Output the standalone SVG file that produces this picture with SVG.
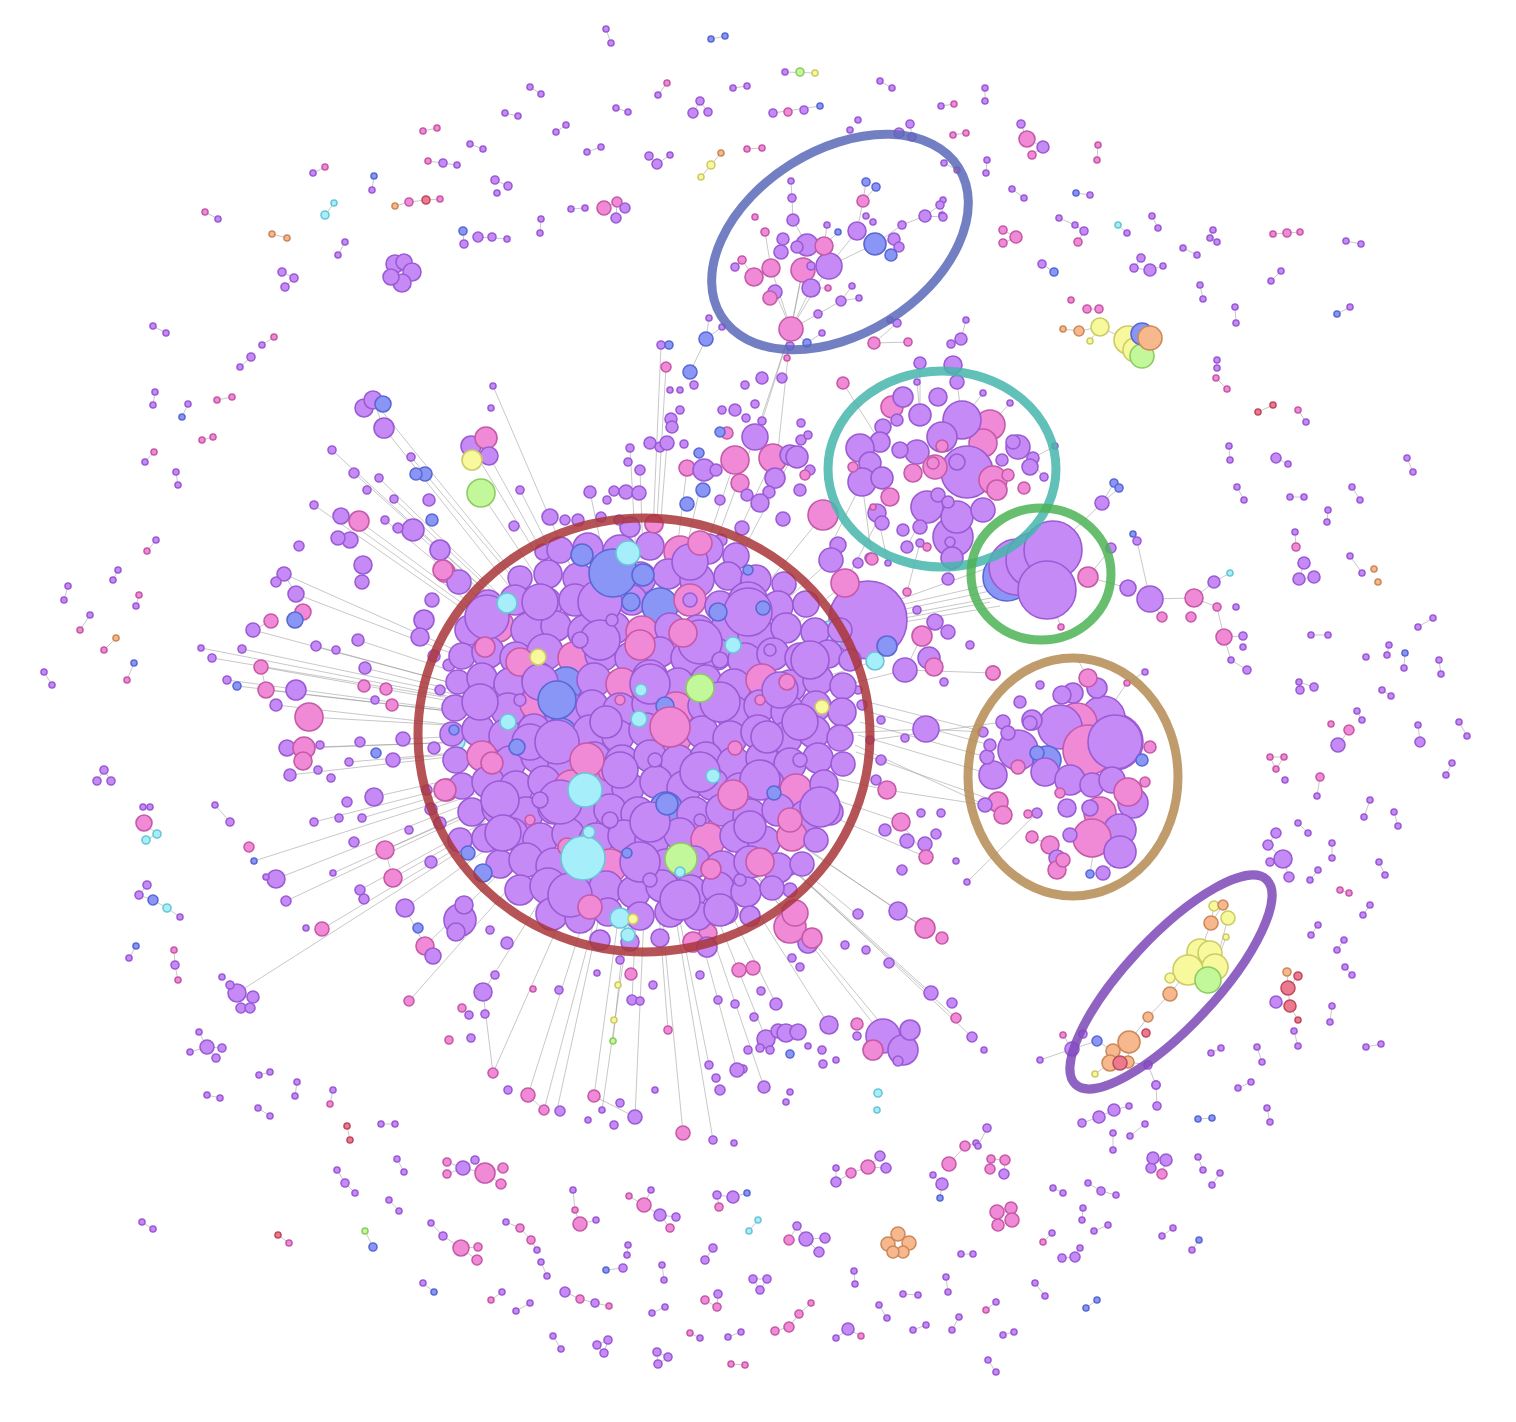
<svg xmlns="http://www.w3.org/2000/svg" width="1516" height="1422" viewBox="0 0 1516 1422">
<style>
circle{stroke-width:1.6}
.p{fill:#c68af6;stroke:#9b5bd4}
.k{fill:#f08ad6;stroke:#c65aa8}
.b{fill:#8a96f6;stroke:#5a68d4}
.c{fill:#a6eefa;stroke:#6ac6d6}
.g{fill:#c2f89a;stroke:#8ccc62}
.y{fill:#f8f89c;stroke:#cccc66}
.o{fill:#f6b88c;stroke:#cc8a5c}
.r{fill:#ec7a8e;stroke:#c04a60}
.e{fill:none;stroke:#8c8c8c;stroke-width:0.6;stroke-opacity:0.8}
.ring{fill:none;stroke-width:9;stroke-opacity:0.85}
</style>
<rect width="1516" height="1422" fill="#ffffff"/>
<g id="connectors">
<path class="e" d="M606 29L611 43M711 39L725 36M785 72L815 73M667 83L658 95M747 86L733 88M530 87L541 94M700 101L693 113M700 101L708 112M773 113L820 106M505 113L518 116M616 108L628 112M556 132L566 125M437 128L423 131M470 144L483 149M601 147L587 152M747 149L762 148M649 156L657 164L670 155M721 153L711 165L701 177M428 161L457 165M495 180L508 186M325 167L313 173M374 176L372 190M334 203L325 215M395 206L409 202L426 200L440 199M604 208L617 202L625 208M617 202L616 218M571 209L585 208M541 219L540 233M463 231L464 244M478 237L507 239M205 212L218 219M272 234L287 238M345 242L338 255M282 272L294 278L285 287M153 326L166 333M262 345L274 337M251 357L240 367M155 392L153 405M188 404L182 417M217 400L232 397M202 440L213 437M145 462L154 452M176 472L178 485M156 540L147 551M118 570L113 580M68 586L64 600M136 606L139 595M90 615L80 630M104 650L116 638M134 663L127 680M44 672L52 685M104 770L97 781M104 770L111 781M143 807L150 807M144 823L157 834L146 840M147 885L139 895L153 900L167 908L180 917M136 946L129 958M174 950L175 965L178 980M215 805L230 822M199 1032L207 1047L216 1058M207 1047L222 1048M190 1052L207 1047M207 1095L220 1098M259 1075L270 1072M258 1108L270 1116M297 1082L295 1096M333 1090L330 1104M347 1126L350 1140M142 1222L153 1229M278 1235L289 1243M337 1170L345 1183L355 1193M365 1231L373 1247M389 1200L399 1211M381 1124L395 1124M397 1159L404 1172M431 1223L443 1236L461 1248L477 1260M461 1248L478 1247M447 1162L463 1168L475 1160M447 1174L463 1168L485 1173L501 1184M485 1173L503 1168M423 1283L434 1292M491 1300L502 1292M506 1222L520 1228L531 1240L537 1250M516 1311L530 1303M541 1262L547 1276M553 1336L561 1349M565 1292L580 1299L595 1303L609 1306M573 1190L575 1210L580 1224L596 1220M597 1345L604 1353L608 1340L597 1345M623 1268L606 1270M629 1196L644 1205L651 1190M644 1205L660 1215L670 1228M660 1215L676 1217M627 1255L628 1245M652 1313L665 1307M657 1352L668 1357L658 1364L657 1352M662 1265L664 1280M690 1333L700 1338M705 1260L713 1248M705 1300L717 1307L718 1294M719 1207L717 1195L733 1197L747 1193M728 1337L741 1332M731 1364L745 1365M749 1231L758 1220M753 1279L767 1279L760 1290L753 1279M775 1331L789 1327L799 1314L811 1303M789 1240L797 1226L806 1239L819 1252M806 1239L825 1238M836 1338L848 1329L861 1336M836 1182L836 1168M836 1182L851 1173L868 1167L880 1156M868 1167L886 1168M854 1271L855 1284M879 1305L887 1318M903 1294L918 1295M913 1330L926 1325M933 1175L942 1184L940 1198M949 1164L965 1146L976 1143M946 1277L948 1292M952 1330L959 1317M961 1254L973 1254M990 1169L991 1159L1005 1160L1004 1174M987 1128L978 1146M988 1360L996 1372M986 1310L996 1302M1003 1335L1014 1332M1035 1283L1045 1296M1043 1242L1052 1233M1053 1188L1063 1193M1062 1258L1075 1257L1080 1248M1082 1220L1083 1208M1082 1123L1099 1117L1114 1110L1129 1106M1088 1183L1101 1191L1116 1195M1086 1308L1097 1300M1094 1231L1108 1225M1113 1133L1113 1150M1130 1136L1145 1124M1151 1168L1153 1158L1166 1160L1162 1174M1156 1085L1157 1106M1162 1236L1173 1228M1198 1119L1212 1118M1198 1157L1203 1170M1192 1250L1199 1240M1212 1185L1220 1173M1211 1053L1221 1048M1238 1088L1251 1082M1257 1047L1262 1062M1267 1108L1270 1122M1294 1031L1298 1046M1366 1047L1381 1044M1330 1022L1332 1006M1287 972L1288 988M1298 976L1288 988L1290 1006L1298 1020M1276 1002L1290 1006M1352 975L1345 967M1337 950L1344 940M1311 935L1318 925M1318 870L1310 880M1340 890L1349 893M1370 905L1363 915M1385 875L1379 862M1364 817L1370 800M1394 812L1398 826M1338 745L1349 730M1270 757L1284 757L1276 769L1270 757M1320 777L1317 796M1332 843L1332 858M1276 833L1268 845L1283 859L1270 862M1283 859L1289 877M1298 823L1308 833M1362 720L1357 711M1391 696L1382 690M1439 660L1441 674M1405 653L1404 668M1418 725L1420 742M1446 775L1452 763M1459 722L1467 736M1418 627L1433 618M1389 645L1387 655M1311 635L1328 635M1300 690L1299 682L1314 687M1314 577L1299 579L1304 563M1296 547L1295 532M1350 556L1362 573M1328 510L1327 522M1352 487L1360 500M1407 458L1413 472M1337 314L1350 307M1346 241L1361 244M1273 234L1300 232M1271 281L1281 271M1298 410L1306 422M1276 458L1288 464M1290 497L1304 497M1258 412L1273 405M1229 446L1230 460M1237 487L1244 500M1216 378L1227 389M1200 285L1203 299M1217 360L1217 368M1213 230L1210 238L1217 242M1235 307L1236 323M1183 248L1197 255M1152 216L1158 228M1141 258L1134 268L1150 270L1163 266M1118 225L1127 233M1076 193L1090 195M1098 145L1097 160M1059 218L1075 225L1084 231L1078 242M1042 264L1054 272M1003 230L1016 237L1003 243M1012 189L1024 198M1021 124L1027 139L1043 147L1032 155M985 88L985 101M941 106L954 104M953 135L966 133M987 160L986 173M943 200L942 215M880 81L892 88M899 133L912 137L910 124M944 163L957 170M1087 309L1099 309M1063 329L1079 331L1100 327L1128 340M1090 341L1100 327"/>
<path class="e" d="M791 329L803 270M791 329L771 268M791 329L811 288M791 329L829 266M791 329L818 314M791 329L775 292M791 329L807 245M803 270L829 266M829 266L875 244M829 266L857 231M807 245L793 220L792 198L791 181M781 252L783 239M771 268L754 277L742 260L735 267M771 268L765 232M857 231L863 201L866 182M863 201L876 187M875 244L894 239L899 247M875 244L891 255M875 244L902 225L925 216L940 205M925 216L943 217M818 314L841 301L852 286M841 301L859 298M824 246L827 225M824 246L838 232M811 288L828 288M791 329L807 343L822 333M791 329L787 358M791 329L775 478M791 329L762 421M791 329L755 437M706 339L709 318M706 339L722 327M706 339L690 372M874 343L897 323M874 343L908 342M951 344L961 339L966 320"/>
<path class="e" d="M843 383L880 442M920 363L920 415M953 365L957 382L962 420M983 393L962 420M1010 403L990 425M1055 446L1033 458M903 397L892 407M907 547L927 507M888 563L877 513M948 579L952 558M907 592L920 543M872 559L862 482M830 547L862 482M845 583L890 497M1044 477L1013 442M917 382L920 415M1102 503L1053 550M1114 483L1102 503M1119 488L1102 503M1111 548L1088 577M1133 534L1137 541L1150 599M1150 599L1162 617M1150 599L1194 598M1194 598L1214 582L1230 573M1194 598L1217 607L1224 637L1243 636M1224 637L1231 660L1247 670M1088 577L1128 588M1061 627L1047 590M1078 660L1088 678"/>
<path class="e" d="M870 612L1000 582M872 616L995 590M874 620L1002 596M872 624L990 602M868 628L1000 606M876 608L1010 560M860 700L985 732M862 710L990 745M860 722L987 757M858 735L993 775M855 745L985 805M856 752L998 802M870 740L1003 722M905 670L993 673M926 729L983 732M887 790L985 805M1120 852L1103 877M1090 873L1100 813M1145 782L1133 803M1150 747L1115 742M1127 683L1103 718M1145 672L1127 683M967 882L1037 813M1032 837L1050 845"/>
<path class="e" d="M1188 970L1170 978M1170 994L1188 970M1170 994L1148 1017L1129 1042L1113 1051L1110 1063M1129 1042L1128 1062M1097 1041L1113 1051M1072 1049L1097 1041M1072 1049L1083 1034M1063 1035L1072 1049M1128 1062L1148 1065L1156 1085M1211 923L1200 952M1228 918L1215 967M1214 906L1211 923M1223 905L1211 923M1226 937L1215 967M1095 1074L1110 1063M1072 1049L1040 1060"/>
<path class="e" d="M531 595L373 400M520 600L384 428M552 580L471 446M543 586L481 493M555 575L489 456M529 597L411 457M498 629L341 516M500 625L359 521M480 661L284 574M482 665L296 594M470 688L253 630M467 704L261 667M464 726L309 717M464 742L304 748M466 712L227 680M466 755L290 775M466 752L349 762M470 775L374 797M480 808L385 850M487 825L393 878M498 841L405 908M514 859L425 946M476 800L276 879M473 791L254 861M493 830L237 993M525 870L409 1001M548 888L483 992M570 899L493 1073M588 906L528 1095M597 910L544 1110M619 913L594 1096M644 915L635 1117M662 915L683 1133M675 913L713 1140M678 911L709 1065M659 914L668 1030M636 915L632 1000M626 914L613 1041M711 902L766 1039M741 886L829 1025M756 875L883 1036M777 855L931 993M792 838L898 911M800 845L925 928M820 775L887 790M815 793L901 822M810 807L926 857M824 734L926 729M818 692L905 670M813 673L887 646M815 680L875 661M790 630L845 583M757 596L823 515M775 610L831 560M729 577L801 440M720 572L773 458M707 566L755 437M700 565L735 460M684 559L704 470M676 558L687 468M658 556L667 443M655 555L666 367M652 555L661 345M643 555L640 470M636 555L630 448M604 559L590 492M563 575L520 490M572 570L493 386M723 897L776 1004M693 908L737 1070M702 906L764 1087M757 874L903 1050M781 852L856 914M756 875L808 943M777 856L956 1018M781 858L972 1037M600 913L557 1110M630 915L602 1110M509 616L413 530M470 688L315 646M473 678L358 640M469 694L365 668M464 736L403 739M465 753L393 760M475 794L431 809M471 786L362 818M486 821L360 890M489 829L322 929M480 810L286 901M480 807L333 873M470 782L314 822M464 742L287 748M464 726L276 705M465 713L266 690M468 697L242 649M467 700L201 648M467 701L212 658M465 713L237 686M505 619L385 520M513 611L394 499M514 609L379 478M511 614L354 473M511 614L332 450M496 632L314 505M373 400L384 428M341 516L359 521M284 574L296 594M253 630L271 621M261 667L266 690M304 748L287 748M385 850L393 878M405 908L425 946M237 993L253 997M483 992L493 1073M528 1095L544 1110M594 1096L635 1117M766 1039L786 1033M883 1036L903 1050M898 911L925 928M901 822L926 857M905 670L922 636M755 437L773 458M704 470L735 460"/>
</g>
<g id="outer-nodes">
<circle class="p" cx="606" cy="29" r="3"/><circle class="p" cx="611" cy="43" r="3"/>
<circle class="b" cx="711" cy="39" r="3"/><circle class="b" cx="725" cy="36" r="3"/>
<circle class="p" cx="785" cy="72" r="3"/><circle class="g" cx="800" cy="72" r="4"/><circle class="y" cx="815" cy="73" r="3"/>
<circle class="k" cx="667" cy="83" r="3"/><circle class="p" cx="658" cy="95" r="3"/>
<circle class="p" cx="747" cy="86" r="3"/><circle class="p" cx="733" cy="88" r="3"/>
<circle class="p" cx="530" cy="87" r="3"/><circle class="p" cx="541" cy="94" r="3"/>
<circle class="p" cx="700" cy="101" r="4"/><circle class="p" cx="693" cy="113" r="5"/><circle class="p" cx="708" cy="112" r="4"/>
<circle class="p" cx="773" cy="113" r="4"/><circle class="k" cx="788" cy="112" r="4"/><circle class="p" cx="804" cy="110" r="4"/><circle class="b" cx="820" cy="106" r="3"/>
<circle class="p" cx="505" cy="113" r="3"/><circle class="p" cx="518" cy="116" r="3"/>
<circle class="p" cx="616" cy="108" r="3"/><circle class="p" cx="628" cy="112" r="3"/>
<circle class="p" cx="556" cy="132" r="3"/><circle class="p" cx="566" cy="125" r="3"/>
<circle class="k" cx="437" cy="128" r="3"/><circle class="k" cx="423" cy="131" r="3"/>
<circle class="p" cx="470" cy="144" r="3"/><circle class="p" cx="483" cy="149" r="3"/>
<circle class="p" cx="601" cy="147" r="3"/><circle class="p" cx="587" cy="152" r="3"/>
<circle class="k" cx="747" cy="149" r="3"/><circle class="k" cx="762" cy="148" r="3"/>
<circle class="p" cx="649" cy="156" r="4"/><circle class="p" cx="657" cy="164" r="5"/><circle class="p" cx="670" cy="155" r="3"/>
<circle class="o" cx="721" cy="153" r="3"/><circle class="y" cx="711" cy="165" r="4"/><circle class="y" cx="701" cy="177" r="3"/>
<circle class="k" cx="428" cy="161" r="3"/><circle class="p" cx="443" cy="163" r="4"/><circle class="p" cx="457" cy="165" r="3"/>
<circle class="p" cx="495" cy="180" r="4"/><circle class="p" cx="508" cy="186" r="4"/><circle class="p" cx="497" cy="193" r="3"/>
<circle class="k" cx="325" cy="167" r="3"/><circle class="p" cx="313" cy="173" r="3"/>
<circle class="b" cx="374" cy="176" r="3"/><circle class="p" cx="372" cy="190" r="3"/>
<circle class="c" cx="334" cy="203" r="3"/><circle class="c" cx="325" cy="215" r="4"/>
<circle class="o" cx="395" cy="206" r="3"/><circle class="k" cx="409" cy="202" r="4"/><circle class="r" cx="426" cy="200" r="4"/><circle class="k" cx="440" cy="199" r="3"/>
<circle class="k" cx="604" cy="208" r="7"/><circle class="k" cx="617" cy="202" r="5"/><circle class="p" cx="625" cy="208" r="5"/><circle class="p" cx="616" cy="218" r="5"/>
<circle class="p" cx="571" cy="209" r="3"/><circle class="p" cx="585" cy="208" r="3"/>
<circle class="p" cx="541" cy="219" r="3"/><circle class="p" cx="540" cy="233" r="3"/>
<circle class="b" cx="463" cy="231" r="4"/><circle class="p" cx="464" cy="244" r="4"/><circle class="p" cx="478" cy="237" r="5"/><circle class="p" cx="492" cy="237" r="4"/><circle class="p" cx="507" cy="239" r="3"/>
<circle class="k" cx="205" cy="212" r="3"/><circle class="p" cx="218" cy="219" r="3"/>
<circle class="o" cx="272" cy="234" r="3"/><circle class="o" cx="287" cy="238" r="3"/>
<circle class="p" cx="345" cy="242" r="3"/><circle class="p" cx="338" cy="255" r="3"/>
<circle class="p" cx="395" cy="264" r="9"/><circle class="p" cx="404" cy="262" r="8"/><circle class="p" cx="412" cy="272" r="9"/><circle class="p" cx="402" cy="283" r="9"/><circle class="p" cx="391" cy="277" r="8"/>
<circle class="p" cx="282" cy="272" r="4"/><circle class="p" cx="294" cy="278" r="4"/><circle class="p" cx="285" cy="287" r="4"/>
<circle class="p" cx="153" cy="326" r="3"/><circle class="p" cx="166" cy="333" r="3"/>
<circle class="p" cx="262" cy="345" r="3"/><circle class="k" cx="274" cy="337" r="3"/>
<circle class="p" cx="251" cy="357" r="4"/><circle class="p" cx="240" cy="367" r="3"/>
<circle class="p" cx="155" cy="392" r="3"/><circle class="p" cx="153" cy="405" r="3"/>
<circle class="p" cx="188" cy="404" r="3"/><circle class="b" cx="182" cy="417" r="3"/>
<circle class="k" cx="217" cy="400" r="3"/><circle class="k" cx="232" cy="397" r="3"/>
<circle class="k" cx="202" cy="440" r="3"/><circle class="k" cx="213" cy="437" r="3"/>
<circle class="p" cx="145" cy="462" r="3"/><circle class="k" cx="154" cy="452" r="3"/>
<circle class="p" cx="176" cy="472" r="3"/><circle class="p" cx="178" cy="485" r="3"/>
<circle class="p" cx="156" cy="540" r="3"/><circle class="k" cx="147" cy="551" r="3"/>
<circle class="p" cx="118" cy="570" r="3"/><circle class="p" cx="113" cy="580" r="3"/>
<circle class="p" cx="68" cy="586" r="3"/><circle class="p" cx="64" cy="600" r="3"/>
<circle class="p" cx="136" cy="606" r="3"/><circle class="k" cx="139" cy="595" r="3"/>
<circle class="p" cx="90" cy="615" r="3"/><circle class="k" cx="80" cy="630" r="3"/>
<circle class="k" cx="104" cy="650" r="3"/><circle class="o" cx="116" cy="638" r="3"/>
<circle class="b" cx="134" cy="663" r="3"/><circle class="k" cx="127" cy="680" r="3"/>
<circle class="p" cx="44" cy="672" r="3"/><circle class="p" cx="52" cy="685" r="3"/>
<circle class="p" cx="104" cy="770" r="4"/><circle class="p" cx="97" cy="781" r="4"/><circle class="p" cx="111" cy="781" r="4"/>
<circle class="p" cx="143" cy="807" r="3"/><circle class="p" cx="150" cy="807" r="3"/><circle class="k" cx="144" cy="823" r="8"/><circle class="c" cx="157" cy="834" r="4"/><circle class="c" cx="146" cy="840" r="4"/>
<circle class="p" cx="147" cy="885" r="4"/><circle class="p" cx="139" cy="895" r="4"/><circle class="b" cx="153" cy="900" r="5"/><circle class="c" cx="167" cy="908" r="4"/><circle class="p" cx="180" cy="917" r="3"/>
<circle class="b" cx="136" cy="946" r="3"/><circle class="p" cx="129" cy="958" r="3"/>
<circle class="k" cx="174" cy="950" r="3"/><circle class="p" cx="175" cy="965" r="4"/><circle class="k" cx="178" cy="980" r="3"/>
<circle class="p" cx="215" cy="805" r="3"/><circle class="p" cx="230" cy="822" r="4"/>
<circle class="p" cx="199" cy="1032" r="3"/><circle class="p" cx="207" cy="1047" r="7"/><circle class="p" cx="216" cy="1058" r="4"/><circle class="p" cx="222" cy="1048" r="4"/><circle class="p" cx="190" cy="1052" r="3"/>
<circle class="p" cx="207" cy="1095" r="3"/><circle class="p" cx="220" cy="1098" r="3"/>
<circle class="p" cx="259" cy="1075" r="3"/><circle class="p" cx="270" cy="1072" r="3"/>
<circle class="p" cx="258" cy="1108" r="3"/><circle class="p" cx="270" cy="1116" r="3"/>
<circle class="p" cx="297" cy="1082" r="3"/><circle class="p" cx="295" cy="1096" r="3"/>
<circle class="p" cx="333" cy="1090" r="3"/><circle class="k" cx="330" cy="1104" r="3"/>
<circle class="r" cx="347" cy="1126" r="3"/><circle class="r" cx="350" cy="1140" r="3"/>
<circle class="p" cx="142" cy="1222" r="3"/><circle class="p" cx="153" cy="1229" r="3"/>
<circle class="r" cx="278" cy="1235" r="3"/><circle class="k" cx="289" cy="1243" r="3"/>
<circle class="p" cx="337" cy="1170" r="3"/><circle class="p" cx="345" cy="1183" r="4"/><circle class="p" cx="355" cy="1193" r="3"/>
<circle class="g" cx="365" cy="1231" r="3"/><circle class="b" cx="373" cy="1247" r="4"/>
<circle class="p" cx="389" cy="1200" r="3"/><circle class="p" cx="399" cy="1211" r="3"/>
<circle class="p" cx="381" cy="1124" r="3"/><circle class="p" cx="395" cy="1124" r="3"/>
<circle class="p" cx="397" cy="1159" r="3"/><circle class="p" cx="404" cy="1172" r="3"/>
<circle class="p" cx="431" cy="1223" r="3"/><circle class="p" cx="443" cy="1236" r="4"/><circle class="k" cx="461" cy="1248" r="8"/><circle class="k" cx="477" cy="1260" r="5"/><circle class="k" cx="478" cy="1247" r="4"/>
<circle class="k" cx="447" cy="1162" r="4"/><circle class="k" cx="447" cy="1174" r="4"/><circle class="p" cx="463" cy="1168" r="7"/><circle class="p" cx="475" cy="1160" r="4"/><circle class="k" cx="485" cy="1173" r="10"/><circle class="k" cx="501" cy="1184" r="5"/><circle class="k" cx="503" cy="1168" r="5"/>
<circle class="p" cx="423" cy="1283" r="3"/><circle class="b" cx="434" cy="1292" r="3"/>
<circle class="k" cx="491" cy="1300" r="3"/><circle class="p" cx="502" cy="1292" r="3"/>
<circle class="p" cx="506" cy="1222" r="3"/><circle class="k" cx="520" cy="1228" r="4"/><circle class="k" cx="531" cy="1240" r="4"/><circle class="p" cx="537" cy="1250" r="3"/>
<circle class="p" cx="516" cy="1311" r="3"/><circle class="p" cx="530" cy="1303" r="3"/>
<circle class="p" cx="541" cy="1262" r="3"/><circle class="p" cx="547" cy="1276" r="3"/>
<circle class="p" cx="553" cy="1336" r="3"/><circle class="p" cx="561" cy="1349" r="3"/>
<circle class="p" cx="565" cy="1292" r="5"/><circle class="k" cx="580" cy="1299" r="4"/><circle class="p" cx="595" cy="1303" r="4"/><circle class="k" cx="609" cy="1306" r="3"/>
<circle class="p" cx="573" cy="1190" r="3"/><circle class="k" cx="575" cy="1210" r="3"/><circle class="k" cx="580" cy="1224" r="7"/><circle class="p" cx="596" cy="1220" r="3"/>
<circle class="p" cx="597" cy="1345" r="4"/><circle class="p" cx="604" cy="1353" r="4"/><circle class="p" cx="608" cy="1340" r="4"/>
<circle class="p" cx="623" cy="1268" r="4"/><circle class="b" cx="606" cy="1270" r="3"/>
<circle class="k" cx="629" cy="1196" r="3"/><circle class="k" cx="644" cy="1205" r="7"/><circle class="p" cx="651" cy="1190" r="3"/><circle class="p" cx="660" cy="1215" r="6"/><circle class="k" cx="670" cy="1228" r="4"/><circle class="p" cx="676" cy="1217" r="4"/>
<circle class="p" cx="627" cy="1255" r="3"/><circle class="p" cx="628" cy="1245" r="3"/>
<circle class="p" cx="652" cy="1313" r="3"/><circle class="p" cx="665" cy="1307" r="3"/>
<circle class="p" cx="657" cy="1352" r="4"/><circle class="p" cx="668" cy="1357" r="4"/><circle class="p" cx="658" cy="1364" r="4"/>
<circle class="p" cx="662" cy="1265" r="3"/><circle class="p" cx="664" cy="1280" r="3"/>
<circle class="k" cx="690" cy="1333" r="3"/><circle class="p" cx="700" cy="1338" r="3"/>
<circle class="p" cx="705" cy="1260" r="4"/><circle class="p" cx="713" cy="1248" r="4"/>
<circle class="k" cx="705" cy="1300" r="4"/><circle class="k" cx="717" cy="1307" r="4"/><circle class="p" cx="718" cy="1294" r="4"/>
<circle class="k" cx="719" cy="1207" r="4"/><circle class="p" cx="717" cy="1195" r="4"/><circle class="p" cx="733" cy="1197" r="6"/><circle class="b" cx="747" cy="1193" r="3"/>
<circle class="p" cx="728" cy="1337" r="3"/><circle class="p" cx="741" cy="1332" r="3"/>
<circle class="k" cx="731" cy="1364" r="3"/><circle class="k" cx="745" cy="1365" r="3"/>
<circle class="c" cx="749" cy="1231" r="3"/><circle class="c" cx="758" cy="1220" r="3"/>
<circle class="p" cx="753" cy="1279" r="4"/><circle class="p" cx="767" cy="1279" r="4"/><circle class="p" cx="760" cy="1290" r="4"/>
<circle class="k" cx="775" cy="1331" r="4"/><circle class="k" cx="789" cy="1327" r="5"/><circle class="k" cx="799" cy="1314" r="4"/><circle class="k" cx="811" cy="1303" r="3"/>
<circle class="k" cx="789" cy="1240" r="5"/><circle class="p" cx="797" cy="1226" r="4"/><circle class="p" cx="806" cy="1239" r="7"/><circle class="p" cx="819" cy="1252" r="5"/><circle class="p" cx="825" cy="1238" r="5"/>
<circle class="p" cx="836" cy="1338" r="3"/><circle class="p" cx="848" cy="1329" r="6"/><circle class="k" cx="861" cy="1336" r="3"/>
<circle class="p" cx="836" cy="1182" r="5"/><circle class="p" cx="836" cy="1168" r="3"/><circle class="k" cx="851" cy="1173" r="5"/><circle class="k" cx="868" cy="1167" r="7"/><circle class="p" cx="880" cy="1156" r="5"/><circle class="p" cx="886" cy="1168" r="5"/>
<circle class="p" cx="854" cy="1271" r="3"/><circle class="p" cx="855" cy="1284" r="3"/>
<circle class="p" cx="879" cy="1305" r="3"/><circle class="p" cx="887" cy="1318" r="3"/>
<circle class="o" cx="888" cy="1244" r="7"/><circle class="o" cx="898" cy="1234" r="7"/><circle class="o" cx="909" cy="1243" r="7"/><circle class="o" cx="903" cy="1252" r="6"/><circle class="o" cx="893" cy="1252" r="6"/>
<circle class="p" cx="903" cy="1294" r="3"/><circle class="p" cx="918" cy="1295" r="3"/>
<circle class="p" cx="913" cy="1330" r="3"/><circle class="p" cx="926" cy="1325" r="3"/>
<circle class="p" cx="933" cy="1175" r="3"/><circle class="p" cx="942" cy="1184" r="6"/><circle class="b" cx="940" cy="1198" r="3"/>
<circle class="k" cx="949" cy="1164" r="7"/><circle class="k" cx="965" cy="1146" r="5"/><circle class="p" cx="976" cy="1143" r="3"/>
<circle class="p" cx="946" cy="1277" r="3"/><circle class="p" cx="948" cy="1292" r="3"/>
<circle class="p" cx="952" cy="1330" r="3"/><circle class="p" cx="959" cy="1317" r="3"/>
<circle class="p" cx="961" cy="1254" r="3"/><circle class="p" cx="973" cy="1254" r="3"/>
<circle class="k" cx="990" cy="1169" r="5"/><circle class="k" cx="991" cy="1159" r="4"/><circle class="k" cx="1005" cy="1160" r="5"/><circle class="p" cx="1004" cy="1174" r="5"/>
<circle class="k" cx="997" cy="1212" r="7"/><circle class="k" cx="1011" cy="1208" r="6"/><circle class="k" cx="1012" cy="1220" r="7"/><circle class="k" cx="998" cy="1225" r="6"/>
<circle class="p" cx="987" cy="1128" r="4"/><circle class="p" cx="978" cy="1146" r="3"/>
<circle class="p" cx="988" cy="1360" r="3"/><circle class="p" cx="996" cy="1372" r="3"/>
<circle class="k" cx="986" cy="1310" r="3"/><circle class="p" cx="996" cy="1302" r="3"/>
<circle class="p" cx="1003" cy="1335" r="3"/><circle class="p" cx="1014" cy="1332" r="3"/>
<circle class="p" cx="1035" cy="1283" r="3"/><circle class="p" cx="1045" cy="1296" r="3"/>
<circle class="k" cx="1043" cy="1242" r="3"/><circle class="p" cx="1052" cy="1233" r="3"/>
<circle class="p" cx="1053" cy="1188" r="3"/><circle class="p" cx="1063" cy="1193" r="3"/>
<circle class="p" cx="1062" cy="1258" r="4"/><circle class="p" cx="1075" cy="1257" r="5"/><circle class="p" cx="1080" cy="1248" r="3"/>
<circle class="p" cx="1082" cy="1220" r="3"/><circle class="p" cx="1083" cy="1208" r="3"/>
<circle class="p" cx="1082" cy="1123" r="4"/><circle class="p" cx="1099" cy="1117" r="6"/><circle class="p" cx="1114" cy="1110" r="6"/><circle class="p" cx="1129" cy="1106" r="3"/>
<circle class="p" cx="1088" cy="1183" r="3"/><circle class="p" cx="1101" cy="1191" r="4"/><circle class="p" cx="1116" cy="1195" r="3"/>
<circle class="b" cx="1086" cy="1308" r="3"/><circle class="b" cx="1097" cy="1300" r="3"/>
<circle class="p" cx="1094" cy="1231" r="3"/><circle class="p" cx="1108" cy="1225" r="3"/>
<circle class="p" cx="1113" cy="1133" r="3"/><circle class="p" cx="1113" cy="1150" r="3"/>
<circle class="p" cx="1130" cy="1136" r="3"/><circle class="p" cx="1145" cy="1124" r="3"/>
<circle class="p" cx="1151" cy="1168" r="5"/><circle class="p" cx="1153" cy="1158" r="6"/><circle class="p" cx="1166" cy="1160" r="6"/><circle class="k" cx="1162" cy="1174" r="5"/>
<circle class="p" cx="1156" cy="1085" r="4"/><circle class="p" cx="1157" cy="1106" r="4"/>
<circle class="p" cx="1162" cy="1236" r="3"/><circle class="p" cx="1173" cy="1228" r="3"/>
<circle class="b" cx="1198" cy="1119" r="3"/><circle class="b" cx="1212" cy="1118" r="3"/>
<circle class="p" cx="1198" cy="1157" r="3"/><circle class="p" cx="1203" cy="1170" r="3"/>
<circle class="p" cx="1192" cy="1250" r="3"/><circle class="b" cx="1199" cy="1240" r="3"/>
<circle class="p" cx="1212" cy="1185" r="3"/><circle class="p" cx="1220" cy="1173" r="3"/>
<circle class="p" cx="1211" cy="1053" r="3"/><circle class="p" cx="1221" cy="1048" r="3"/>
<circle class="p" cx="1238" cy="1088" r="3"/><circle class="p" cx="1251" cy="1082" r="3"/>
<circle class="p" cx="1257" cy="1047" r="3"/><circle class="p" cx="1262" cy="1062" r="3"/>
<circle class="p" cx="1267" cy="1108" r="3"/><circle class="p" cx="1270" cy="1122" r="3"/>
<circle class="p" cx="1294" cy="1031" r="3"/><circle class="p" cx="1298" cy="1046" r="3"/>
<circle class="p" cx="1366" cy="1047" r="3"/><circle class="p" cx="1381" cy="1044" r="3"/>
<circle class="p" cx="1330" cy="1022" r="3"/><circle class="p" cx="1332" cy="1006" r="3"/>
<circle class="o" cx="1287" cy="972" r="4"/><circle class="r" cx="1298" cy="976" r="4"/><circle class="r" cx="1288" cy="988" r="7"/><circle class="r" cx="1290" cy="1006" r="6"/><circle class="r" cx="1298" cy="1020" r="3"/><circle class="p" cx="1276" cy="1002" r="6"/>
<circle class="p" cx="1352" cy="975" r="3"/><circle class="p" cx="1345" cy="967" r="3"/>
<circle class="p" cx="1337" cy="950" r="3"/><circle class="p" cx="1344" cy="940" r="3"/>
<circle class="p" cx="1311" cy="935" r="3"/><circle class="p" cx="1318" cy="925" r="3"/>
<circle class="p" cx="1318" cy="870" r="3"/><circle class="p" cx="1310" cy="880" r="3"/>
<circle class="k" cx="1340" cy="890" r="3"/><circle class="k" cx="1349" cy="893" r="3"/>
<circle class="p" cx="1370" cy="905" r="3"/><circle class="p" cx="1363" cy="915" r="3"/>
<circle class="p" cx="1385" cy="875" r="3"/><circle class="p" cx="1379" cy="862" r="3"/>
<circle class="p" cx="1364" cy="817" r="3"/><circle class="p" cx="1370" cy="800" r="3"/>
<circle class="p" cx="1394" cy="812" r="3"/><circle class="p" cx="1398" cy="826" r="3"/>
<circle class="p" cx="1338" cy="745" r="7"/><circle class="k" cx="1349" cy="730" r="5"/><circle class="k" cx="1331" cy="724" r="3"/>
<circle class="k" cx="1270" cy="757" r="3"/><circle class="k" cx="1284" cy="757" r="3"/><circle class="k" cx="1276" cy="769" r="3"/>
<circle class="k" cx="1320" cy="777" r="4"/><circle class="p" cx="1317" cy="796" r="3"/><circle class="p" cx="1285" cy="780" r="3"/>
<circle class="p" cx="1332" cy="843" r="3"/><circle class="p" cx="1332" cy="858" r="3"/>
<circle class="p" cx="1276" cy="833" r="5"/><circle class="p" cx="1268" cy="845" r="5"/><circle class="p" cx="1283" cy="859" r="9"/><circle class="p" cx="1270" cy="862" r="4"/><circle class="p" cx="1289" cy="877" r="5"/>
<circle class="p" cx="1298" cy="823" r="3"/><circle class="p" cx="1308" cy="833" r="3"/>
<circle class="p" cx="1362" cy="720" r="3"/><circle class="p" cx="1357" cy="711" r="3"/>
<circle class="p" cx="1391" cy="696" r="3"/><circle class="p" cx="1382" cy="690" r="3"/>
<circle class="p" cx="1439" cy="660" r="3"/><circle class="p" cx="1441" cy="674" r="3"/>
<circle class="b" cx="1405" cy="653" r="3"/><circle class="p" cx="1404" cy="668" r="3"/>
<circle class="p" cx="1418" cy="725" r="3"/><circle class="p" cx="1420" cy="742" r="5"/>
<circle class="p" cx="1446" cy="775" r="3"/><circle class="p" cx="1452" cy="763" r="3"/>
<circle class="p" cx="1459" cy="722" r="3"/><circle class="p" cx="1467" cy="736" r="3"/>
<circle class="p" cx="1418" cy="627" r="3"/><circle class="p" cx="1433" cy="618" r="3"/>
<circle class="p" cx="1389" cy="645" r="3"/><circle class="p" cx="1387" cy="655" r="3"/><circle class="p" cx="1366" cy="657" r="3"/>
<circle class="p" cx="1311" cy="635" r="3"/><circle class="p" cx="1328" cy="635" r="3"/>
<circle class="p" cx="1300" cy="690" r="4"/><circle class="p" cx="1299" cy="682" r="3"/><circle class="p" cx="1314" cy="687" r="4"/>
<circle class="p" cx="1314" cy="577" r="6"/><circle class="p" cx="1299" cy="579" r="6"/><circle class="p" cx="1304" cy="563" r="6"/>
<circle class="k" cx="1296" cy="547" r="4"/><circle class="p" cx="1295" cy="532" r="3"/>
<circle class="p" cx="1350" cy="556" r="3"/><circle class="p" cx="1362" cy="573" r="3"/>
<circle class="p" cx="1328" cy="510" r="3"/><circle class="p" cx="1327" cy="522" r="3"/>
<circle class="p" cx="1352" cy="487" r="3"/><circle class="p" cx="1360" cy="500" r="3"/>
<circle class="o" cx="1374" cy="569" r="3"/><circle class="o" cx="1378" cy="582" r="3"/>
<circle class="p" cx="1407" cy="458" r="3"/><circle class="p" cx="1413" cy="472" r="3"/>
<circle class="b" cx="1337" cy="314" r="3"/><circle class="p" cx="1350" cy="307" r="3"/>
<circle class="p" cx="1346" cy="241" r="3"/><circle class="p" cx="1361" cy="244" r="3"/>
<circle class="k" cx="1273" cy="234" r="3"/><circle class="k" cx="1287" cy="233" r="4"/><circle class="k" cx="1300" cy="232" r="3"/>
<circle class="p" cx="1271" cy="281" r="3"/><circle class="p" cx="1281" cy="271" r="3"/>
<circle class="k" cx="1298" cy="410" r="3"/><circle class="p" cx="1306" cy="422" r="3"/>
<circle class="p" cx="1276" cy="458" r="5"/><circle class="p" cx="1288" cy="464" r="3"/>
<circle class="p" cx="1290" cy="497" r="3"/><circle class="p" cx="1304" cy="497" r="3"/>
<circle class="r" cx="1258" cy="412" r="3"/><circle class="r" cx="1273" cy="405" r="3"/>
<circle class="p" cx="1229" cy="446" r="3"/><circle class="p" cx="1230" cy="460" r="3"/>
<circle class="p" cx="1237" cy="487" r="3"/><circle class="p" cx="1244" cy="500" r="3"/>
<circle class="k" cx="1216" cy="378" r="3"/><circle class="k" cx="1227" cy="389" r="3"/>
<circle class="p" cx="1200" cy="285" r="3"/><circle class="p" cx="1203" cy="299" r="3"/>
<circle class="p" cx="1217" cy="360" r="3"/><circle class="p" cx="1217" cy="368" r="3"/>
<circle class="p" cx="1213" cy="230" r="3"/><circle class="p" cx="1210" cy="238" r="3"/><circle class="p" cx="1217" cy="242" r="3"/>
<circle class="p" cx="1235" cy="307" r="3"/><circle class="p" cx="1236" cy="323" r="3"/>
<circle class="p" cx="1183" cy="248" r="3"/><circle class="p" cx="1197" cy="255" r="3"/>
<circle class="p" cx="1152" cy="216" r="3"/><circle class="p" cx="1158" cy="228" r="3"/>
<circle class="p" cx="1141" cy="258" r="4"/><circle class="p" cx="1134" cy="268" r="4"/><circle class="p" cx="1150" cy="270" r="6"/><circle class="p" cx="1163" cy="266" r="3"/>
<circle class="c" cx="1118" cy="225" r="3"/><circle class="p" cx="1127" cy="233" r="3"/>
<circle class="b" cx="1076" cy="193" r="3"/><circle class="p" cx="1090" cy="195" r="3"/>
<circle class="k" cx="1098" cy="145" r="3"/><circle class="k" cx="1097" cy="160" r="3"/>
<circle class="p" cx="1059" cy="218" r="3"/><circle class="p" cx="1075" cy="225" r="3"/><circle class="p" cx="1084" cy="231" r="4"/><circle class="k" cx="1078" cy="242" r="4"/>
<circle class="p" cx="1042" cy="264" r="4"/><circle class="b" cx="1054" cy="272" r="4"/>
<circle class="k" cx="1003" cy="230" r="4"/><circle class="k" cx="1016" cy="237" r="6"/><circle class="k" cx="1003" cy="243" r="4"/>
<circle class="p" cx="1012" cy="189" r="3"/><circle class="p" cx="1024" cy="198" r="3"/>
<circle class="p" cx="1021" cy="124" r="4"/><circle class="k" cx="1027" cy="139" r="8"/><circle class="p" cx="1043" cy="147" r="6"/><circle class="k" cx="1032" cy="155" r="4"/>
<circle class="p" cx="985" cy="88" r="3"/><circle class="p" cx="985" cy="101" r="3"/>
<circle class="p" cx="941" cy="106" r="3"/><circle class="k" cx="954" cy="104" r="3"/>
<circle class="k" cx="953" cy="135" r="3"/><circle class="k" cx="966" cy="133" r="3"/>
<circle class="p" cx="987" cy="160" r="3"/><circle class="p" cx="986" cy="173" r="3"/>
<circle class="p" cx="943" cy="200" r="3"/><circle class="p" cx="942" cy="215" r="3"/>
<circle class="p" cx="880" cy="81" r="3"/><circle class="p" cx="892" cy="88" r="3"/>
<circle class="p" cx="899" cy="133" r="5"/><circle class="p" cx="912" cy="137" r="4"/><circle class="p" cx="910" cy="124" r="4"/>
<circle class="p" cx="944" cy="163" r="3"/><circle class="k" cx="957" cy="170" r="3"/>
<circle class="p" cx="858" cy="120" r="3"/><circle class="p" cx="850" cy="130" r="3"/>
<circle class="k" cx="1071" cy="300" r="3"/><circle class="k" cx="1087" cy="309" r="4"/><circle class="k" cx="1099" cy="309" r="4"/><circle class="o" cx="1063" cy="329" r="3"/><circle class="o" cx="1079" cy="331" r="5"/><circle class="y" cx="1090" cy="341" r="3"/><circle class="y" cx="1100" cy="327" r="9"/>
<circle class="y" cx="1128" cy="340" r="14"/><circle class="y" cx="1135" cy="350" r="12"/><circle class="g" cx="1142" cy="356" r="12"/><circle class="b" cx="1142" cy="334" r="11"/><circle class="o" cx="1150" cy="338" r="12"/>
</g>
<g id="halo-nodes">
<circle class="p" cx="364" cy="408" r="9"/><circle class="p" cx="373" cy="400" r="9"/><circle class="b" cx="383" cy="404" r="8"/><circle class="p" cx="384" cy="428" r="10"/>
<circle class="p" cx="471" cy="446" r="10"/><circle class="k" cx="486" cy="438" r="11"/><circle class="p" cx="489" cy="456" r="9"/><circle class="y" cx="472" cy="460" r="10"/><circle class="g" cx="481" cy="493" r="14"/><circle class="p" cx="491" cy="408" r="3"/><circle class="p" cx="493" cy="386" r="3"/>
<circle class="p" cx="411" cy="457" r="4"/><circle class="b" cx="425" cy="474" r="7"/><circle class="b" cx="416" cy="474" r="6"/><circle class="p" cx="429" cy="500" r="6"/><circle class="b" cx="432" cy="520" r="6"/><circle class="p" cx="413" cy="530" r="11"/><circle class="p" cx="398" cy="528" r="5"/><circle class="p" cx="385" cy="520" r="4"/><circle class="k" cx="359" cy="521" r="10"/><circle class="p" cx="341" cy="516" r="8"/><circle class="p" cx="350" cy="540" r="8"/><circle class="p" cx="338" cy="538" r="7"/><circle class="p" cx="363" cy="565" r="9"/><circle class="p" cx="362" cy="582" r="7"/><circle class="p" cx="314" cy="505" r="4"/><circle class="p" cx="332" cy="450" r="4"/><circle class="p" cx="354" cy="473" r="5"/><circle class="p" cx="379" cy="478" r="4"/><circle class="p" cx="367" cy="490" r="4"/><circle class="p" cx="394" cy="499" r="4"/>
<circle class="p" cx="299" cy="546" r="5"/><circle class="p" cx="284" cy="574" r="7"/><circle class="p" cx="296" cy="594" r="8"/><circle class="k" cx="303" cy="612" r="8"/><circle class="b" cx="295" cy="620" r="8"/><circle class="k" cx="271" cy="621" r="7"/><circle class="p" cx="276" cy="582" r="5"/><circle class="p" cx="253" cy="630" r="7"/><circle class="p" cx="242" cy="649" r="4"/><circle class="k" cx="261" cy="667" r="7"/><circle class="k" cx="266" cy="690" r="8"/><circle class="p" cx="276" cy="705" r="6"/><circle class="k" cx="309" cy="717" r="14"/><circle class="p" cx="296" cy="690" r="10"/><circle class="p" cx="287" cy="748" r="8"/><circle class="k" cx="304" cy="748" r="11"/><circle class="k" cx="303" cy="761" r="9"/><circle class="p" cx="290" cy="775" r="6"/><circle class="p" cx="318" cy="770" r="4"/><circle class="p" cx="320" cy="745" r="4"/><circle class="p" cx="227" cy="680" r="4"/><circle class="b" cx="237" cy="686" r="4"/><circle class="p" cx="201" cy="648" r="3"/><circle class="p" cx="212" cy="658" r="4"/>
<circle class="p" cx="316" cy="646" r="5"/><circle class="p" cx="336" cy="650" r="4"/><circle class="p" cx="358" cy="640" r="6"/><circle class="p" cx="365" cy="668" r="6"/><circle class="k" cx="364" cy="686" r="6"/><circle class="k" cx="386" cy="689" r="6"/><circle class="k" cx="392" cy="705" r="6"/><circle class="p" cx="375" cy="700" r="4"/><circle class="p" cx="403" cy="739" r="7"/><circle class="p" cx="393" cy="760" r="7"/><circle class="b" cx="376" cy="753" r="5"/><circle class="p" cx="360" cy="742" r="5"/><circle class="p" cx="349" cy="762" r="4"/><circle class="p" cx="331" cy="778" r="4"/><circle class="p" cx="347" cy="802" r="5"/><circle class="p" cx="374" cy="797" r="9"/><circle class="p" cx="362" cy="818" r="4"/><circle class="k" cx="385" cy="850" r="9"/><circle class="p" cx="354" cy="842" r="5"/><circle class="p" cx="339" cy="818" r="4"/><circle class="p" cx="314" cy="822" r="4"/><circle class="k" cx="393" cy="878" r="9"/><circle class="p" cx="405" cy="908" r="9"/><circle class="b" cx="418" cy="928" r="5"/><circle class="k" cx="425" cy="946" r="9"/><circle class="p" cx="433" cy="956" r="8"/><circle class="p" cx="360" cy="890" r="5"/><circle class="p" cx="364" cy="899" r="5"/><circle class="p" cx="333" cy="873" r="3"/><circle class="k" cx="322" cy="929" r="7"/><circle class="p" cx="306" cy="928" r="3"/><circle class="p" cx="276" cy="879" r="9"/><circle class="p" cx="286" cy="901" r="5"/><circle class="p" cx="266" cy="877" r="3"/><circle class="b" cx="254" cy="861" r="3"/><circle class="k" cx="249" cy="847" r="5"/><circle class="p" cx="431" cy="862" r="6"/><circle class="p" cx="409" cy="830" r="4"/><circle class="k" cx="409" cy="1001" r="5"/><circle class="p" cx="427" cy="790" r="5"/><circle class="p" cx="431" cy="809" r="6"/>
<circle class="p" cx="237" cy="993" r="9"/><circle class="p" cx="241" cy="1008" r="5"/><circle class="p" cx="250" cy="1008" r="5"/><circle class="p" cx="253" cy="997" r="6"/><circle class="p" cx="230" cy="985" r="4"/><circle class="p" cx="222" cy="977" r="3"/>
<circle class="p" cx="440" cy="550" r="10"/><circle class="k" cx="445" cy="572" r="10"/><circle class="p" cx="459" cy="582" r="12"/><circle class="p" cx="424" cy="620" r="10"/><circle class="p" cx="420" cy="637" r="9"/><circle class="p" cx="432" cy="600" r="7"/><circle class="p" cx="434" cy="656" r="6"/><circle class="p" cx="449" cy="665" r="6"/><circle class="p" cx="440" cy="690" r="5"/><circle class="c" cx="458" cy="742" r="7"/><circle class="p" cx="434" cy="748" r="6"/><circle class="k" cx="447" cy="790" r="11"/><circle class="p" cx="440" cy="823" r="6"/><circle class="p" cx="460" cy="840" r="12"/>
<circle class="p" cx="550" cy="517" r="8"/><circle class="p" cx="543" cy="552" r="8"/><circle class="p" cx="565" cy="520" r="5"/><circle class="p" cx="578" cy="520" r="6"/><circle class="p" cx="601" cy="517" r="5"/><circle class="p" cx="630" cy="527" r="10"/><circle class="k" cx="654" cy="524" r="9"/><circle class="p" cx="590" cy="492" r="6"/><circle class="p" cx="614" cy="491" r="5"/><circle class="p" cx="626" cy="492" r="7"/><circle class="p" cx="640" cy="470" r="5"/><circle class="p" cx="619" cy="520" r="5"/><circle class="p" cx="607" cy="500" r="4"/><circle class="p" cx="520" cy="490" r="4"/><circle class="p" cx="514" cy="526" r="5"/><circle class="p" cx="630" cy="448" r="4"/><circle class="p" cx="650" cy="443" r="6"/><circle class="p" cx="660" cy="447" r="5"/><circle class="p" cx="628" cy="462" r="4"/><circle class="p" cx="639" cy="493" r="7"/>
<circle class="p" cx="661" cy="345" r="4"/><circle class="b" cx="669" cy="345" r="4"/><circle class="k" cx="666" cy="367" r="5"/><circle class="p" cx="670" cy="390" r="3"/><circle class="p" cx="680" cy="390" r="3"/><circle class="b" cx="706" cy="339" r="7"/><circle class="p" cx="709" cy="318" r="3"/><circle class="p" cx="722" cy="327" r="3"/><circle class="b" cx="690" cy="372" r="7"/><circle class="p" cx="694" cy="385" r="4"/><circle class="p" cx="680" cy="410" r="4"/><circle class="p" cx="671" cy="419" r="6"/><circle class="p" cx="672" cy="427" r="6"/><circle class="p" cx="667" cy="443" r="7"/><circle class="p" cx="684" cy="444" r="4"/><circle class="k" cx="687" cy="468" r="8"/><circle class="b" cx="699" cy="453" r="5"/><circle class="p" cx="704" cy="470" r="11"/><circle class="b" cx="703" cy="490" r="7"/><circle class="k" cx="701" cy="544" r="12"/><circle class="p" cx="721" cy="540" r="6"/><circle class="p" cx="720" cy="500" r="5"/><circle class="p" cx="716" cy="470" r="6"/><circle class="k" cx="735" cy="460" r="14"/><circle class="k" cx="740" cy="483" r="9"/><circle class="p" cx="755" cy="437" r="13"/><circle class="p" cx="762" cy="421" r="4"/><circle class="p" cx="746" cy="418" r="4"/><circle class="p" cx="755" cy="404" r="4"/><circle class="k" cx="773" cy="458" r="14"/><circle class="p" cx="790" cy="455" r="10"/><circle class="p" cx="797" cy="457" r="11"/><circle class="p" cx="801" cy="440" r="5"/><circle class="p" cx="775" cy="478" r="10"/><circle class="p" cx="769" cy="492" r="6"/><circle class="p" cx="760" cy="503" r="9"/><circle class="p" cx="747" cy="495" r="6"/><circle class="p" cx="800" cy="490" r="6"/><circle class="p" cx="810" cy="470" r="5"/><circle class="p" cx="762" cy="378" r="6"/><circle class="p" cx="745" cy="385" r="4"/><circle class="p" cx="782" cy="378" r="5"/><circle class="p" cx="801" cy="423" r="4"/><circle class="p" cx="808" cy="435" r="4"/><circle class="p" cx="790" cy="346" r="4"/><circle class="k" cx="805" cy="475" r="5"/><circle class="p" cx="722" cy="410" r="4"/><circle class="p" cx="735" cy="410" r="6"/><circle class="k" cx="727" cy="433" r="6"/><circle class="b" cx="720" cy="432" r="5"/><circle class="p" cx="783" cy="519" r="7"/><circle class="p" cx="742" cy="528" r="7"/>
<circle class="k" cx="823" cy="515" r="15"/><circle class="p" cx="838" cy="545" r="8"/><circle class="p" cx="831" cy="560" r="12"/><circle class="p" cx="858" cy="563" r="5"/><circle class="p" cx="870" cy="558" r="5"/><circle class="p" cx="868" cy="620" r="39"/><circle class="k" cx="845" cy="583" r="14"/><circle class="c" cx="830" cy="635" r="14"/><circle class="c" cx="875" cy="661" r="9"/><circle class="b" cx="887" cy="646" r="10"/><circle class="p" cx="905" cy="670" r="12"/><circle class="p" cx="926" cy="729" r="13"/><circle class="p" cx="905" cy="738" r="4"/><circle class="p" cx="881" cy="760" r="5"/><circle class="k" cx="887" cy="790" r="9"/><circle class="p" cx="885" cy="830" r="6"/><circle class="k" cx="901" cy="822" r="9"/><circle class="p" cx="907" cy="841" r="7"/><circle class="p" cx="925" cy="844" r="7"/><circle class="k" cx="926" cy="857" r="7"/><circle class="p" cx="936" cy="834" r="5"/><circle class="p" cx="956" cy="861" r="3"/><circle class="p" cx="921" cy="813" r="4"/><circle class="p" cx="941" cy="813" r="4"/><circle class="p" cx="902" cy="870" r="5"/><circle class="p" cx="898" cy="911" r="9"/><circle class="k" cx="925" cy="928" r="10"/><circle class="k" cx="942" cy="938" r="6"/><circle class="p" cx="931" cy="993" r="7"/><circle class="p" cx="952" cy="1003" r="5"/><circle class="k" cx="956" cy="1018" r="5"/><circle class="p" cx="972" cy="1037" r="5"/><circle class="p" cx="984" cy="1050" r="3"/><circle class="p" cx="889" cy="963" r="5"/><circle class="p" cx="858" cy="914" r="5"/><circle class="p" cx="866" cy="950" r="4"/><circle class="p" cx="845" cy="945" r="4"/>
<circle class="p" cx="808" cy="943" r="10"/><circle class="k" cx="790" cy="927" r="16"/><circle class="k" cx="795" cy="913" r="13"/><circle class="k" cx="812" cy="938" r="10"/><circle class="p" cx="790" cy="890" r="7"/><circle class="p" cx="791" cy="870" r="5"/><circle class="p" cx="792" cy="958" r="4"/><circle class="p" cx="800" cy="967" r="4"/><circle class="p" cx="776" cy="1004" r="6"/><circle class="p" cx="766" cy="1039" r="9"/><circle class="p" cx="778" cy="1031" r="7"/><circle class="p" cx="786" cy="1033" r="9"/><circle class="p" cx="798" cy="1032" r="8"/><circle class="p" cx="808" cy="1046" r="3"/><circle class="p" cx="829" cy="1025" r="9"/><circle class="k" cx="857" cy="1024" r="6"/><circle class="p" cx="857" cy="1036" r="4"/><circle class="p" cx="883" cy="1036" r="17"/><circle class="k" cx="873" cy="1050" r="10"/><circle class="p" cx="903" cy="1050" r="15"/><circle class="p" cx="910" cy="1030" r="10"/><circle class="p" cx="898" cy="1061" r="5"/><circle class="c" cx="878" cy="1093" r="4"/><circle class="c" cx="877" cy="1110" r="3"/><circle class="p" cx="822" cy="1050" r="4"/><circle class="p" cx="823" cy="1064" r="4"/><circle class="p" cx="836" cy="1060" r="3"/><circle class="p" cx="760" cy="1048" r="4"/><circle class="p" cx="743" cy="1069" r="4"/><circle class="p" cx="737" cy="1070" r="7"/><circle class="p" cx="716" cy="1078" r="4"/><circle class="p" cx="720" cy="1090" r="5"/><circle class="p" cx="764" cy="1087" r="6"/><circle class="p" cx="790" cy="1092" r="3"/><circle class="p" cx="786" cy="1102" r="3"/><circle class="p" cx="754" cy="1017" r="4"/><circle class="k" cx="753" cy="968" r="7"/><circle class="k" cx="739" cy="970" r="7"/><circle class="p" cx="761" cy="991" r="4"/><circle class="p" cx="735" cy="1004" r="4"/><circle class="p" cx="748" cy="1050" r="4"/><circle class="p" cx="770" cy="1050" r="4"/><circle class="b" cx="790" cy="1054" r="4"/>
<circle class="p" cx="870" cy="740" r="4"/><circle class="p" cx="881" cy="720" r="4"/><circle class="p" cx="858" cy="690" r="4"/><circle class="p" cx="862" cy="705" r="5"/><circle class="p" cx="876" cy="780" r="5"/><circle class="p" cx="917" cy="610" r="4"/><circle class="k" cx="922" cy="636" r="10"/><circle class="p" cx="935" cy="622" r="8"/><circle class="p" cx="948" cy="632" r="7"/><circle class="p" cx="929" cy="658" r="11"/><circle class="k" cx="934" cy="667" r="9"/><circle class="p" cx="944" cy="682" r="4"/><circle class="k" cx="993" cy="673" r="7"/><circle class="p" cx="970" cy="645" r="4"/>
<circle class="k" cx="631" cy="974" r="6"/><circle class="p" cx="632" cy="1000" r="5"/><circle class="p" cx="640" cy="1001" r="4"/><circle class="y" cx="614" cy="1020" r="3"/><circle class="y" cx="618" cy="985" r="3"/><circle class="g" cx="613" cy="1041" r="3"/><circle class="k" cx="668" cy="1030" r="4"/><circle class="p" cx="655" cy="1090" r="3"/><circle class="p" cx="709" cy="1065" r="4"/><circle class="k" cx="708" cy="933" r="9"/><circle class="k" cx="693" cy="942" r="10"/><circle class="p" cx="707" cy="947" r="10"/><circle class="p" cx="653" cy="985" r="4"/><circle class="k" cx="493" cy="1073" r="5"/><circle class="p" cx="508" cy="1090" r="4"/><circle class="k" cx="528" cy="1095" r="7"/><circle class="k" cx="544" cy="1110" r="5"/><circle class="p" cx="560" cy="1111" r="5"/><circle class="k" cx="594" cy="1096" r="6"/><circle class="p" cx="602" cy="1110" r="3"/><circle class="p" cx="620" cy="1103" r="4"/><circle class="p" cx="635" cy="1117" r="7"/><circle class="p" cx="588" cy="1120" r="3"/><circle class="p" cx="614" cy="1125" r="4"/><circle class="k" cx="683" cy="1133" r="7"/><circle class="p" cx="713" cy="1140" r="4"/><circle class="p" cx="734" cy="1143" r="3"/><circle class="k" cx="449" cy="1040" r="4"/><circle class="p" cx="471" cy="1038" r="4"/><circle class="p" cx="483" cy="992" r="9"/><circle class="k" cx="462" cy="1008" r="4"/><circle class="p" cx="469" cy="1015" r="4"/><circle class="p" cx="485" cy="1014" r="4"/><circle class="p" cx="495" cy="975" r="4"/><circle class="k" cx="533" cy="989" r="3"/><circle class="p" cx="507" cy="943" r="6"/><circle class="p" cx="460" cy="920" r="16"/><circle class="p" cx="464" cy="905" r="9"/><circle class="p" cx="456" cy="932" r="9"/><circle class="p" cx="490" cy="930" r="4"/><circle class="p" cx="559" cy="990" r="4"/><circle class="p" cx="597" cy="973" r="3"/><circle class="b" cx="597" cy="943" r="4"/><circle class="p" cx="620" cy="960" r="4"/><circle class="p" cx="718" cy="1000" r="4"/><circle class="p" cx="700" cy="975" r="4"/>
</g>
<g id="cluster-main">
<circle class="p" cx="560" cy="550" r="13"/><circle class="p" cx="588" cy="548" r="15"/><circle class="p" cx="620" cy="552" r="17"/><circle class="p" cx="650" cy="546" r="14"/><circle class="k" cx="680" cy="552" r="16"/><circle class="p" cx="708" cy="549" r="15"/><circle class="p" cx="736" cy="556" r="13"/>
<circle class="p" cx="520" cy="578" r="12"/><circle class="p" cx="548" cy="574" r="14"/><circle class="p" cx="578" cy="578" r="15"/><circle class="b" cx="608" cy="572" r="18"/><circle class="p" cx="640" cy="578" r="16"/><circle class="p" cx="668" cy="574" r="15"/><circle class="p" cx="697" cy="580" r="17"/><circle class="p" cx="728" cy="576" r="14"/><circle class="p" cx="756" cy="580" r="15"/><circle class="p" cx="784" cy="584" r="12"/>
<circle class="p" cx="488" cy="604" r="14"/><circle class="p" cx="515" cy="600" r="15"/><circle class="p" cx="545" cy="604" r="17"/><circle class="p" cx="575" cy="600" r="16"/><circle class="p" cx="603" cy="605" r="15"/><circle class="p" cx="632" cy="600" r="15"/><circle class="b" cx="660" cy="606" r="18"/><circle class="k" cx="690" cy="600" r="16"/><circle class="p" cx="720" cy="606" r="15"/><circle class="p" cx="748" cy="602" r="20"/><circle class="p" cx="778" cy="606" r="15"/><circle class="p" cx="806" cy="604" r="13"/>
<circle class="p" cx="470" cy="630" r="15"/><circle class="k" cx="498" cy="626" r="16"/><circle class="p" cx="528" cy="630" r="17"/><circle class="p" cx="556" cy="626" r="15"/><circle class="p" cx="585" cy="632" r="17"/><circle class="p" cx="614" cy="628" r="16"/><circle class="k" cx="642" cy="632" r="16"/><circle class="p" cx="670" cy="628" r="15"/><circle class="p" cx="698" cy="632" r="17"/><circle class="p" cx="727" cy="628" r="16"/><circle class="p" cx="756" cy="634" r="18"/><circle class="p" cx="786" cy="628" r="15"/><circle class="p" cx="815" cy="632" r="14"/><circle class="p" cx="840" cy="630" r="12"/>
<circle class="p" cx="462" cy="656" r="13"/><circle class="p" cx="488" cy="652" r="16"/><circle class="p" cx="516" cy="658" r="16"/><circle class="p" cx="545" cy="652" r="18"/><circle class="k" cx="574" cy="658" r="16"/><circle class="p" cx="602" cy="654" r="17"/><circle class="p" cx="631" cy="658" r="16"/><circle class="p" cx="660" cy="652" r="15"/><circle class="p" cx="688" cy="658" r="17"/><circle class="p" cx="716" cy="654" r="16"/><circle class="p" cx="745" cy="660" r="17"/><circle class="p" cx="773" cy="654" r="16"/><circle class="p" cx="800" cy="658" r="15"/><circle class="p" cx="828" cy="654" r="14"/><circle class="p" cx="850" cy="660" r="11"/>
<circle class="p" cx="458" cy="682" r="12"/><circle class="p" cx="482" cy="678" r="15"/><circle class="p" cx="510" cy="684" r="16"/><circle class="p" cx="538" cy="678" r="16"/><circle class="b" cx="566" cy="684" r="17"/><circle class="p" cx="594" cy="680" r="17"/><circle class="k" cx="622" cy="684" r="16"/><circle class="p" cx="650" cy="678" r="18"/><circle class="p" cx="678" cy="684" r="16"/><circle class="p" cx="706" cy="680" r="15"/><circle class="p" cx="734" cy="686" r="17"/><circle class="k" cx="762" cy="680" r="16"/><circle class="p" cx="790" cy="686" r="16"/><circle class="p" cx="818" cy="680" r="15"/><circle class="p" cx="843" cy="686" r="13"/>
<circle class="p" cx="455" cy="708" r="13"/><circle class="p" cx="480" cy="704" r="15"/><circle class="p" cx="508" cy="710" r="17"/><circle class="k" cx="536" cy="704" r="16"/><circle class="p" cx="564" cy="710" r="20"/><circle class="p" cx="592" cy="706" r="16"/><circle class="p" cx="620" cy="710" r="17"/><circle class="p" cx="648" cy="704" r="16"/><circle class="k" cx="676" cy="710" r="18"/><circle class="p" cx="704" cy="706" r="16"/><circle class="p" cx="732" cy="712" r="17"/><circle class="p" cx="760" cy="706" r="16"/><circle class="p" cx="788" cy="712" r="17"/><circle class="p" cx="816" cy="706" r="15"/><circle class="p" cx="842" cy="712" r="14"/>
<circle class="p" cx="452" cy="734" r="12"/><circle class="p" cx="478" cy="730" r="16"/><circle class="p" cx="506" cy="736" r="17"/><circle class="p" cx="534" cy="730" r="16"/><circle class="b" cx="560" cy="736" r="18"/><circle class="p" cx="590" cy="732" r="17"/><circle class="p" cx="618" cy="736" r="16"/><circle class="p" cx="646" cy="730" r="17"/><circle class="k" cx="674" cy="736" r="18"/><circle class="p" cx="702" cy="732" r="16"/><circle class="p" cx="730" cy="738" r="17"/><circle class="p" cx="758" cy="732" r="17"/><circle class="p" cx="786" cy="738" r="16"/><circle class="p" cx="814" cy="732" r="16"/><circle class="p" cx="840" cy="738" r="13"/>
<circle class="p" cx="456" cy="760" r="13"/><circle class="k" cx="482" cy="756" r="15"/><circle class="p" cx="510" cy="762" r="16"/><circle class="p" cx="538" cy="756" r="17"/><circle class="p" cx="566" cy="762" r="18"/><circle class="p" cx="594" cy="758" r="16"/><circle class="p" cx="622" cy="762" r="17"/><circle class="p" cx="650" cy="756" r="16"/><circle class="p" cx="678" cy="762" r="17"/><circle class="p" cx="706" cy="758" r="16"/><circle class="p" cx="734" cy="764" r="17"/><circle class="p" cx="762" cy="758" r="16"/><circle class="p" cx="790" cy="764" r="16"/><circle class="p" cx="818" cy="758" r="15"/><circle class="p" cx="843" cy="764" r="12"/>
<circle class="p" cx="462" cy="786" r="13"/><circle class="p" cx="488" cy="782" r="16"/><circle class="p" cx="516" cy="788" r="17"/><circle class="p" cx="544" cy="782" r="16"/><circle class="k" cx="572" cy="788" r="18"/><circle class="p" cx="600" cy="784" r="17"/><circle class="p" cx="628" cy="788" r="16"/><circle class="p" cx="656" cy="782" r="16"/><circle class="p" cx="684" cy="788" r="17"/><circle class="p" cx="712" cy="784" r="16"/><circle class="p" cx="740" cy="790" r="17"/><circle class="p" cx="768" cy="784" r="16"/><circle class="k" cx="796" cy="790" r="16"/><circle class="p" cx="824" cy="784" r="14"/>
<circle class="p" cx="472" cy="812" r="14"/><circle class="p" cx="498" cy="808" r="16"/><circle class="p" cx="526" cy="814" r="17"/><circle class="p" cx="554" cy="808" r="16"/><circle class="p" cx="582" cy="814" r="17"/><circle class="p" cx="610" cy="810" r="16"/><circle class="p" cx="638" cy="814" r="17"/><circle class="b" cx="666" cy="808" r="16"/><circle class="p" cx="694" cy="814" r="17"/><circle class="p" cx="722" cy="810" r="16"/><circle class="p" cx="750" cy="816" r="17"/><circle class="p" cx="778" cy="810" r="16"/><circle class="p" cx="806" cy="816" r="16"/><circle class="p" cx="830" cy="812" r="13"/>
<circle class="p" cx="486" cy="838" r="14"/><circle class="p" cx="512" cy="834" r="16"/><circle class="p" cx="540" cy="840" r="17"/><circle class="p" cx="568" cy="834" r="16"/><circle class="p" cx="596" cy="840" r="17"/><circle class="p" cx="624" cy="836" r="16"/><circle class="p" cx="652" cy="840" r="17"/><circle class="p" cx="680" cy="834" r="16"/><circle class="k" cx="708" cy="840" r="17"/><circle class="p" cx="736" cy="836" r="16"/><circle class="p" cx="764" cy="842" r="16"/><circle class="k" cx="792" cy="836" r="15"/><circle class="p" cx="816" cy="840" r="12"/>
<circle class="p" cx="500" cy="864" r="14"/><circle class="p" cx="526" cy="860" r="17"/><circle class="p" cx="554" cy="866" r="18"/><circle class="p" cx="582" cy="862" r="16"/><circle class="k" cx="610" cy="866" r="17"/><circle class="p" cx="638" cy="860" r="16"/><circle class="p" cx="666" cy="866" r="17"/><circle class="p" cx="694" cy="862" r="16"/><circle class="p" cx="722" cy="868" r="17"/><circle class="p" cx="750" cy="862" r="16"/><circle class="p" cx="778" cy="868" r="15"/><circle class="p" cx="802" cy="864" r="12"/>
<circle class="p" cx="520" cy="890" r="15"/><circle class="p" cx="548" cy="886" r="18"/><circle class="p" cx="576" cy="892" r="20"/><circle class="p" cx="606" cy="888" r="17"/><circle class="p" cx="634" cy="892" r="16"/><circle class="p" cx="662" cy="886" r="16"/><circle class="p" cx="690" cy="892" r="17"/><circle class="p" cx="718" cy="888" r="16"/><circle class="p" cx="746" cy="892" r="15"/><circle class="p" cx="772" cy="888" r="12"/>
<circle class="p" cx="552" cy="914" r="16"/><circle class="p" cx="580" cy="918" r="15"/><circle class="p" cx="608" cy="912" r="14"/><circle class="p" cx="640" cy="916" r="14"/><circle class="p" cx="670" cy="912" r="15"/><circle class="p" cx="698" cy="916" r="14"/><circle class="p" cx="726" cy="912" r="12"/><circle class="p" cx="750" cy="916" r="10"/>
<circle class="p" cx="600" cy="940" r="10"/><circle class="p" cx="630" cy="942" r="9"/><circle class="p" cx="660" cy="938" r="9"/>
<circle class="p" cx="600" cy="602" r="22"/><circle class="p" cx="700" cy="642" r="22"/><circle class="p" cx="650" cy="684" r="20"/><circle class="p" cx="560" cy="802" r="22"/><circle class="p" cx="720" cy="702" r="20"/><circle class="p" cx="800" cy="722" r="18"/><circle class="p" cx="530" cy="742" r="18"/><circle class="p" cx="640" cy="862" r="20"/><circle class="p" cx="760" cy="780" r="20"/><circle class="p" cx="480" cy="702" r="18"/><circle class="p" cx="606" cy="722" r="16"/><circle class="k" cx="760" cy="862" r="14"/><circle class="p" cx="540" cy="602" r="18"/><circle class="p" cx="690" cy="562" r="18"/><circle class="k" cx="520" cy="662" r="14"/><circle class="p" cx="810" cy="660" r="19"/><circle class="p" cx="500" cy="800" r="19"/><circle class="p" cx="720" cy="910" r="16"/><circle class="k" cx="610" cy="770" r="12"/>
<circle class="p" cx="487" cy="617" r="22"/><circle class="p" cx="557" cy="742" r="22"/><circle class="p" cx="748" cy="612" r="24"/><circle class="p" cx="570" cy="895" r="22"/><circle class="p" cx="820" cy="807" r="20"/><circle class="p" cx="503" cy="833" r="18"/><circle class="p" cx="680" cy="900" r="20"/><circle class="p" cx="767" cy="737" r="16"/><circle class="p" cx="750" cy="827" r="16"/><circle class="p" cx="600" cy="640" r="20"/><circle class="p" cx="700" cy="772" r="20"/><circle class="p" cx="650" cy="822" r="20"/><circle class="p" cx="540" cy="682" r="18"/><circle class="p" cx="780" cy="690" r="18"/><circle class="p" cx="620" cy="770" r="18"/>
<circle class="b" cx="557" cy="700" r="19"/><circle class="b" cx="613" cy="573" r="24"/><circle class="b" cx="582" cy="555" r="11"/><circle class="b" cx="643" cy="575" r="11"/><circle class="b" cx="631" cy="602" r="9"/><circle class="b" cx="667" cy="804" r="11"/><circle class="b" cx="665" cy="706" r="9"/><circle class="b" cx="682" cy="722" r="7"/><circle class="b" cx="718" cy="612" r="9"/><circle class="b" cx="774" cy="793" r="7"/><circle class="b" cx="763" cy="608" r="7"/><circle class="b" cx="627" cy="853" r="5"/><circle class="b" cx="468" cy="853" r="7"/><circle class="b" cx="483" cy="873" r="9"/><circle class="b" cx="454" cy="730" r="5"/><circle class="b" cx="517" cy="747" r="8"/><circle class="b" cx="748" cy="570" r="5"/><circle class="b" cx="687" cy="504" r="7"/>
<circle class="k" cx="640" cy="645" r="15"/><circle class="k" cx="733" cy="795" r="15"/><circle class="k" cx="590" cy="907" r="12"/><circle class="k" cx="700" cy="543" r="12"/><circle class="k" cx="654" cy="524" r="9"/><circle class="k" cx="492" cy="763" r="11"/><circle class="k" cx="445" cy="790" r="11"/><circle class="k" cx="443" cy="570" r="10"/><circle class="k" cx="485" cy="647" r="10"/><circle class="k" cx="587" cy="760" r="17"/><circle class="k" cx="567" cy="847" r="9"/><circle class="k" cx="790" cy="820" r="12"/><circle class="k" cx="670" cy="727" r="20"/><circle class="k" cx="683" cy="633" r="14"/><circle class="k" cx="787" cy="682" r="8"/><circle class="k" cx="735" cy="748" r="7"/><circle class="k" cx="711" cy="869" r="10"/>
<circle class="g" cx="700" cy="688" r="14"/><circle class="g" cx="681" cy="859" r="16"/>
<circle class="c" cx="585" cy="790" r="17"/><circle class="c" cx="583" cy="858" r="22"/><circle class="c" cx="628" cy="553" r="12"/><circle class="c" cx="733" cy="645" r="8"/><circle class="c" cx="639" cy="719" r="8"/><circle class="c" cx="713" cy="776" r="7"/><circle class="c" cx="620" cy="918" r="10"/><circle class="c" cx="628" cy="935" r="7"/><circle class="c" cx="507" cy="603" r="10"/><circle class="c" cx="508" cy="722" r="8"/><circle class="c" cx="589" cy="832" r="6"/><circle class="c" cx="641" cy="690" r="6"/><circle class="c" cx="680" cy="872" r="5"/>
<circle class="y" cx="538" cy="657" r="8"/><circle class="y" cx="822" cy="707" r="7"/><circle class="y" cx="633" cy="919" r="5"/>
<circle class="p" cx="580" cy="640" r="8"/><circle class="p" cx="612" cy="620" r="6"/><circle class="p" cx="690" cy="600" r="7"/><circle class="p" cx="720" cy="660" r="8"/><circle class="p" cx="655" cy="760" r="7"/><circle class="p" cx="700" cy="820" r="6"/><circle class="p" cx="540" cy="800" r="8"/><circle class="p" cx="520" cy="700" r="6"/><circle class="k" cx="530" cy="820" r="5"/><circle class="k" cx="760" cy="700" r="5"/><circle class="p" cx="800" cy="760" r="7"/><circle class="p" cx="610" cy="820" r="8"/><circle class="p" cx="770" cy="650" r="6"/><circle class="k" cx="620" cy="700" r="5"/><circle class="p" cx="650" cy="880" r="7"/><circle class="p" cx="740" cy="880" r="6"/>
</g>
<g id="cluster-blue">
<circle class="k" cx="791" cy="329" r="12"/><circle class="k" cx="803" cy="270" r="12"/><circle class="p" cx="829" cy="266" r="13"/><circle class="b" cx="875" cy="244" r="11"/><circle class="p" cx="807" cy="245" r="11"/><circle class="k" cx="824" cy="246" r="9"/><circle class="p" cx="781" cy="252" r="7"/><circle class="p" cx="783" cy="239" r="6"/><circle class="p" cx="797" cy="247" r="6"/><circle class="k" cx="771" cy="268" r="9"/><circle class="k" cx="754" cy="277" r="9"/><circle class="p" cx="775" cy="292" r="7"/><circle class="k" cx="770" cy="298" r="7"/><circle class="p" cx="811" cy="288" r="9"/><circle class="p" cx="811" cy="266" r="4"/><circle class="p" cx="793" cy="220" r="6"/><circle class="p" cx="792" cy="198" r="4"/><circle class="p" cx="791" cy="181" r="3"/><circle class="k" cx="765" cy="232" r="4"/><circle class="k" cx="755" cy="217" r="3"/><circle class="k" cx="742" cy="260" r="4"/><circle class="p" cx="735" cy="267" r="4"/><circle class="p" cx="818" cy="314" r="4"/><circle class="p" cx="841" cy="301" r="5"/><circle class="p" cx="852" cy="286" r="3"/><circle class="p" cx="859" cy="298" r="3"/><circle class="p" cx="857" cy="231" r="9"/><circle class="k" cx="863" cy="201" r="6"/><circle class="b" cx="866" cy="182" r="4"/><circle class="b" cx="876" cy="187" r="4"/><circle class="p" cx="866" cy="216" r="3"/><circle class="p" cx="873" cy="222" r="3"/><circle class="p" cx="894" cy="239" r="6"/><circle class="p" cx="899" cy="247" r="5"/><circle class="b" cx="891" cy="255" r="6"/><circle class="p" cx="902" cy="225" r="4"/><circle class="p" cx="925" cy="216" r="6"/><circle class="p" cx="940" cy="205" r="4"/><circle class="p" cx="943" cy="217" r="4"/><circle class="p" cx="827" cy="225" r="3"/><circle class="b" cx="838" cy="232" r="3"/><circle class="k" cx="828" cy="288" r="3"/><circle class="b" cx="807" cy="343" r="4"/><circle class="p" cx="822" cy="333" r="3"/><circle class="k" cx="787" cy="358" r="3"/><circle class="k" cx="874" cy="343" r="6"/><circle class="k" cx="908" cy="342" r="4"/><circle class="p" cx="897" cy="323" r="4"/><circle class="p" cx="890" cy="320" r="3"/><circle class="p" cx="951" cy="344" r="4"/><circle class="p" cx="961" cy="339" r="6"/><circle class="p" cx="966" cy="320" r="3"/>
</g>
<g id="cluster-teal">
<circle class="p" cx="953" cy="537" r="20"/><circle class="p" cx="927" cy="507" r="16"/><circle class="p" cx="957" cy="517" r="16"/><circle class="p" cx="983" cy="510" r="12"/><circle class="p" cx="952" cy="558" r="11"/><circle class="p" cx="920" cy="527" r="7"/><circle class="p" cx="903" cy="530" r="6"/>
<circle class="k" cx="990" cy="425" r="15"/><circle class="k" cx="983" cy="443" r="14"/><circle class="p" cx="962" cy="420" r="19"/><circle class="p" cx="942" cy="437" r="15"/><circle class="p" cx="920" cy="415" r="11"/><circle class="p" cx="917" cy="452" r="12"/><circle class="k" cx="892" cy="407" r="11"/><circle class="p" cx="883" cy="427" r="8"/><circle class="p" cx="880" cy="442" r="10"/><circle class="p" cx="860" cy="448" r="14"/><circle class="p" cx="870" cy="463" r="11"/><circle class="p" cx="862" cy="482" r="14"/><circle class="p" cx="882" cy="478" r="11"/><circle class="k" cx="853" cy="467" r="5"/><circle class="k" cx="890" cy="497" r="9"/><circle class="p" cx="877" cy="513" r="9"/><circle class="p" cx="882" cy="523" r="7"/><circle class="p" cx="900" cy="450" r="8"/><circle class="k" cx="913" cy="473" r="9"/><circle class="p" cx="967" cy="472" r="26"/><circle class="k" cx="935" cy="467" r="12"/><circle class="k" cx="933" cy="463" r="6"/><circle class="p" cx="957" cy="462" r="8"/><circle class="k" cx="942" cy="446" r="6"/><circle class="p" cx="938" cy="495" r="7"/><circle class="p" cx="948" cy="502" r="6"/><circle class="p" cx="950" cy="542" r="5"/><circle class="k" cx="993" cy="480" r="14"/><circle class="k" cx="997" cy="490" r="10"/><circle class="p" cx="1018" cy="447" r="12"/><circle class="p" cx="1013" cy="442" r="7"/><circle class="p" cx="1033" cy="458" r="6"/><circle class="p" cx="1030" cy="467" r="8"/><circle class="k" cx="1008" cy="475" r="6"/><circle class="p" cx="1002" cy="460" r="6"/><circle class="k" cx="1024" cy="488" r="6"/><circle class="p" cx="1044" cy="477" r="4"/><circle class="p" cx="938" cy="397" r="9"/><circle class="p" cx="903" cy="397" r="10"/><circle class="p" cx="920" cy="363" r="6"/><circle class="p" cx="953" cy="365" r="9"/><circle class="p" cx="957" cy="382" r="7"/><circle class="k" cx="843" cy="383" r="6"/><circle class="p" cx="917" cy="382" r="3"/><circle class="p" cx="983" cy="393" r="3"/><circle class="p" cx="1010" cy="403" r="3"/><circle class="p" cx="897" cy="420" r="6"/><circle class="p" cx="907" cy="547" r="6"/><circle class="p" cx="920" cy="543" r="4"/><circle class="k" cx="927" cy="547" r="4"/><circle class="p" cx="948" cy="579" r="6"/><circle class="k" cx="907" cy="592" r="4"/><circle class="k" cx="872" cy="559" r="6"/><circle class="p" cx="888" cy="563" r="3"/><circle class="k" cx="873" cy="507" r="3"/><circle class="p" cx="1055" cy="446" r="3"/>
</g>
<g id="cluster-green">
<circle class="b" cx="1007" cy="577" r="24"/><circle class="p" cx="1017" cy="567" r="28"/><circle class="p" cx="1033" cy="560" r="27"/><circle class="p" cx="1053" cy="550" r="29"/><circle class="p" cx="1047" cy="590" r="29"/>
<circle class="k" cx="1088" cy="577" r="10"/><circle class="p" cx="1102" cy="503" r="7"/><circle class="b" cx="1114" cy="483" r="4"/><circle class="b" cx="1119" cy="488" r="4"/><circle class="p" cx="1111" cy="548" r="5"/><circle class="b" cx="1133" cy="534" r="3"/><circle class="p" cx="1137" cy="541" r="4"/><circle class="p" cx="1128" cy="588" r="8"/><circle class="p" cx="1150" cy="599" r="13"/><circle class="k" cx="1162" cy="617" r="5"/><circle class="k" cx="1194" cy="598" r="9"/><circle class="k" cx="1191" cy="617" r="5"/><circle class="p" cx="1214" cy="582" r="6"/><circle class="c" cx="1230" cy="573" r="3"/><circle class="k" cx="1217" cy="607" r="4"/><circle class="p" cx="1236" cy="607" r="3"/><circle class="k" cx="1224" cy="637" r="8"/><circle class="p" cx="1243" cy="636" r="4"/><circle class="p" cx="1243" cy="647" r="3"/><circle class="p" cx="1247" cy="670" r="4"/><circle class="p" cx="1231" cy="660" r="3"/><circle class="k" cx="1061" cy="627" r="3"/>
</g>
<g id="cluster-tan">
<circle class="p" cx="1115" cy="742" r="28"/><circle class="p" cx="1103" cy="718" r="22"/><circle class="k" cx="1077" cy="723" r="20"/><circle class="p" cx="1060" cy="727" r="22"/><circle class="k" cx="1088" cy="750" r="25"/><circle class="p" cx="1115" cy="742" r="27"/>
<circle class="p" cx="1073" cy="693" r="10"/><circle class="p" cx="1097" cy="688" r="10"/><circle class="k" cx="1088" cy="678" r="9"/><circle class="p" cx="1062" cy="695" r="9"/><circle class="p" cx="1032" cy="720" r="10"/><circle class="p" cx="1018" cy="750" r="20"/><circle class="b" cx="1047" cy="760" r="14"/><circle class="b" cx="1037" cy="753" r="7"/><circle class="p" cx="1045" cy="772" r="14"/><circle class="k" cx="1018" cy="767" r="7"/><circle class="p" cx="993" cy="775" r="14"/><circle class="p" cx="1070" cy="780" r="15"/><circle class="p" cx="1092" cy="785" r="12"/><circle class="p" cx="1112" cy="780" r="13"/><circle class="p" cx="1133" cy="803" r="15"/><circle class="k" cx="1128" cy="792" r="14"/><circle class="k" cx="1100" cy="813" r="16"/><circle class="p" cx="1090" cy="808" r="8"/><circle class="p" cx="1067" cy="808" r="9"/><circle class="k" cx="1060" cy="793" r="5"/><circle class="p" cx="1037" cy="813" r="5"/><circle class="k" cx="1028" cy="814" r="4"/><circle class="p" cx="1120" cy="830" r="16"/><circle class="k" cx="1092" cy="838" r="19"/><circle class="p" cx="1120" cy="852" r="16"/><circle class="p" cx="1070" cy="835" r="7"/><circle class="k" cx="1050" cy="845" r="9"/><circle class="p" cx="1057" cy="858" r="8"/><circle class="k" cx="1057" cy="870" r="9"/><circle class="k" cx="1063" cy="860" r="7"/><circle class="p" cx="1103" cy="873" r="7"/><circle class="b" cx="1090" cy="874" r="4"/><circle class="k" cx="998" cy="802" r="10"/><circle class="k" cx="1003" cy="815" r="9"/><circle class="p" cx="985" cy="805" r="7"/><circle class="p" cx="987" cy="757" r="7"/><circle class="p" cx="990" cy="745" r="6"/><circle class="p" cx="983" cy="732" r="5"/><circle class="p" cx="1003" cy="722" r="7"/><circle class="p" cx="1008" cy="733" r="7"/><circle class="p" cx="1020" cy="702" r="6"/><circle class="p" cx="1030" cy="723" r="7"/><circle class="p" cx="1040" cy="685" r="4"/><circle class="k" cx="993" cy="673" r="7"/><circle class="b" cx="1142" cy="760" r="6"/><circle class="k" cx="1150" cy="747" r="6"/><circle class="k" cx="1145" cy="782" r="5"/><circle class="k" cx="1127" cy="683" r="3"/><circle class="p" cx="1145" cy="672" r="3"/><circle class="k" cx="1032" cy="837" r="6"/><circle class="p" cx="967" cy="882" r="3"/>
</g>
<g id="cluster-purple">
<circle class="y" cx="1200" cy="952" r="13"/><circle class="y" cx="1210" cy="953" r="12"/><circle class="y" cx="1215" cy="967" r="13"/><circle class="y" cx="1188" cy="970" r="15"/><circle class="g" cx="1208" cy="980" r="13"/><circle class="y" cx="1170" cy="978" r="5"/><circle class="o" cx="1170" cy="994" r="7"/><circle class="o" cx="1148" cy="1017" r="5"/><circle class="r" cx="1146" cy="1033" r="4"/><circle class="o" cx="1129" cy="1042" r="11"/><circle class="o" cx="1113" cy="1051" r="7"/><circle class="o" cx="1110" cy="1063" r="8"/><circle class="o" cx="1128" cy="1062" r="6"/><circle class="r" cx="1120" cy="1063" r="7"/><circle class="b" cx="1097" cy="1041" r="5"/><circle class="p" cx="1072" cy="1049" r="7"/><circle class="p" cx="1083" cy="1034" r="4"/><circle class="k" cx="1063" cy="1035" r="3"/><circle class="p" cx="1148" cy="1065" r="4"/><circle class="p" cx="1156" cy="1085" r="4"/><circle class="o" cx="1211" cy="923" r="7"/><circle class="y" cx="1228" cy="918" r="7"/><circle class="y" cx="1214" cy="906" r="5"/><circle class="o" cx="1223" cy="905" r="5"/><circle class="y" cx="1226" cy="937" r="3"/><circle class="y" cx="1095" cy="1074" r="3"/><circle class="p" cx="1040" cy="1060" r="3"/>
</g>
<g id="highlight-rings">
<ellipse class="ring" cx="840" cy="242" rx="140" ry="92" transform="rotate(-32 840 242)" stroke="#5b68b8"/>
<ellipse class="ring" cx="942" cy="469" rx="114" ry="98" stroke="#45b5ab"/>
<ellipse class="ring" cx="1041" cy="574" rx="70" ry="66" stroke="#4cb356"/>
<ellipse class="ring" cx="644" cy="735" rx="226" ry="217" stroke="#a83538" stroke-width="10"/>
<ellipse class="ring" cx="1073" cy="777" rx="105" ry="119" stroke="#b58a52"/>
<ellipse class="ring" cx="1171" cy="982" rx="140" ry="45" transform="rotate(-47 1171 982)" stroke="#7d48b8"/>
</g>
</svg>
